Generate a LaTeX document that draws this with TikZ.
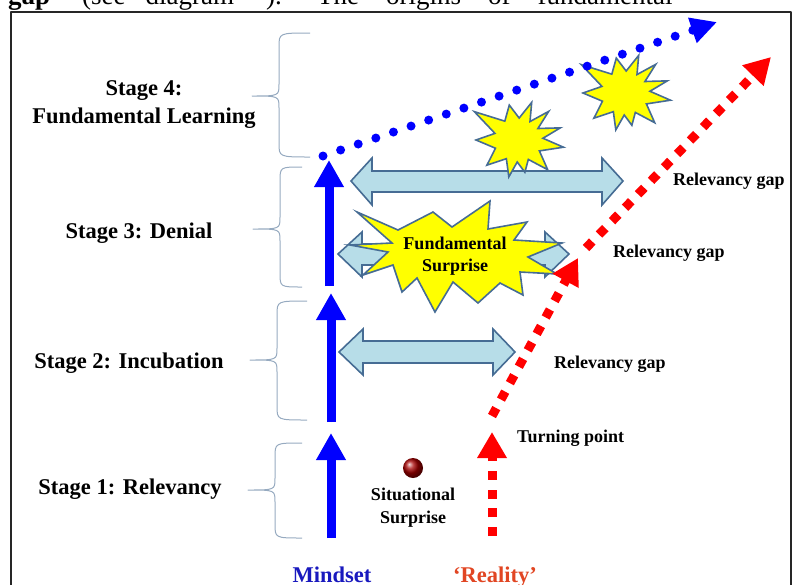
\documentclass[tikz,border=0pt]{standalone}
\usepackage{fontspec}
\setmainfont{Liberation Serif}
\usetikzlibrary{arrows.meta}
\definecolor{mindblue}{RGB}{0,0,255}
\definecolor{realred}{RGB}{255,0,0}
\definecolor{bracegray}{RGB}{150,170,192}
\definecolor{gapfill}{RGB}{183,221,232}
\definecolor{gapedge}{RGB}{70,108,148}
\definecolor{burstyellow}{RGB}{255,255,0}
\definecolor{mindtext}{RGB}{25,25,190}
\definecolor{realtext}{RGB}{225,70,35}

\newcommand{\stagebrace}[5]{%
  \draw[brace line] (#1,#3) .. controls (#2+27,#3) .. (#2+27,#3+14) -- (#2+27,#4-12)
    .. controls (#2+27,#4) .. (#2,#4) .. controls (#2+27,#4) .. (#2+27,#4+12)
    -- (#2+27,#5-14) .. controls (#2+27,#5) .. (#1,#5);
}

\begin{document}
\begin{tikzpicture}[x=1pt,y=-1pt,line join=round,
    brace line/.style={draw=bracegray,line width=1pt},
    stage label/.style={font=\fontsize{22.5}{26}\selectfont\bfseries,inner sep=0pt,anchor=base},
    small label/.style={font=\fontsize{18}{20}\selectfont\bfseries,inner sep=0pt},
    page text/.style={font=\fontsize{27}{30}\selectfont,inner sep=0pt,anchor=base west},
    gap arrow/.style={draw=gapedge,fill=gapfill,line width=1.6pt,line join=miter},
    burst/.style={draw=gapedge,fill=burstyellow,line width=1.6pt,line join=miter},
    mind arrow/.style={draw=mindblue,fill=mindblue,line width=9pt,-{Triangle[length=27pt,width=28pt]}},
    mind dots/.style={draw=mindblue,line width=9pt,line cap=round,dash pattern=on 0pt off 18.6pt,-{Triangle[length=26pt,width=25pt]}},
    real dash/.style={draw=realred,line width=9pt,dash pattern=on 9pt off 9.7pt,-{Triangle[length=26pt,width=28pt]}}]

    \useasboundingbox (0,0) rectangle (797,584);
    \clip (0,0) rectangle (797,584);

    \node[page text] (textA) at (8,4) {\spaceskip=20pt\relax\textbf{gap}” (see diagram ”).};
    \node[page text] (textB) at (317,4) {\spaceskip=27pt\relax The origins of fundamental};

    \draw[line width=2pt,black!85] (11,12) rectangle (791,640);

    \stagebrace{310}{252}{33}{96}{157}
    \stagebrace{302}{253}{167}{229}{287}
    \stagebrace{307}{250}{301}{360}{420}
    \stagebrace{302}{248}{443}{490}{538}

    \node[stage label] (stage4) at (144,95) {Stage 4:};
    \node[stage label] (stage4b) at (144,123) {Fundamental Learning};
    \node[stage label] (stage3) at (139,238) {Stage 3: Denial};
    \node[stage label] (stage2) at (129,368) {Stage 2: Incubation};
    \node[stage label] (stage1) at (130,494) {Stage 1: Relevancy};

    \draw[gap arrow] (351,181) -- (372,158) -- (372,171) -- (602,171) -- (602,158) -- (623,181) -- (602,205) -- (602,192) -- (372,192) -- (372,205) -- cycle;
    \draw[gap arrow] (338,254) -- (362,232) -- (362,244) -- (545,244) -- (545,232) -- (569,254) -- (545,277) -- (545,265) -- (362,265) -- (362,277) -- cycle;
    \draw[gap arrow] (339,352) -- (363,329) -- (363,341) -- (493,341) -- (493,329) -- (515,352) -- (493,375) -- (493,363) -- (363,363) -- (363,375) -- cycle;

    \draw[burst] (357,212) -- (398,230) -- (433,212) -- (452,227) -- (490,201) -- (488,229) -- (527,222) -- (514,240) -- (562,243) -- (528,257) -- (557,274) -- (520,272) -- (523,295) -- (500,283) -- (478,303) -- (453,282) -- (435,312) -- (417,278) -- (402,292) -- (393,265) -- (363,275) -- (388,252) -- (350,245) -- (392,243) -- cycle;
    \draw[burst,shift={(518,140)}] (9:46) -- (27:24) -- (45:42) -- (62:22) -- (78:33) -- (92:22) -- (104:38) -- (122:22) -- (141:40) -- (160:24) -- (180:42) -- (196:24) -- (213:52) -- (235:23) -- (256:36) -- (273:22) -- (290:40) -- (303:22) -- (317:42) -- (330:23) -- (344:44) -- (356:25) -- cycle;
    \draw[burst,shift={(625,93)}] (9:46) -- (27:24) -- (45:42) -- (62:22) -- (78:33) -- (92:22) -- (104:38) -- (122:22) -- (141:40) -- (160:24) -- (180:42) -- (196:24) -- (213:52) -- (235:23) -- (256:36) -- (273:22) -- (290:40) -- (303:22) -- (317:42) -- (330:23) -- (344:44) -- (356:25) -- cycle;

    \coordinate (m1) at (331,538);
    \coordinate (m1tip) at (331,433);
    \coordinate (m2) at (331,422);
    \coordinate (m2tip) at (331,293);
    \coordinate (m3) at (329,286);
    \coordinate (m3tip) at (329,160);
    \coordinate (dots0) at (323,156);
    \coordinate (dotstip) at (717,22);
    \draw[mind arrow] (m1) -- (m1tip);
    \draw[mind arrow] (m2) -- (m2tip);
    \draw[mind arrow] (m3) -- (m3tip);
    \draw[mind dots] (dots0) -- (dotstip);

    \coordinate (r1) at (492,536);
    \coordinate (r1tip) at (492,432);
    \coordinate (r2) at (492,416);
    \coordinate (r2tip) at (578,258);
    \coordinate (r3) at (586,248);
    \coordinate (r3tip) at (771,57);
    \draw[real dash] (r1) -- (r1tip);
    \draw[real dash] (r2) -- (r2tip);
    \draw[real dash] (r3) -- (r3tip);

    \shade[ball color=red!65!black] (413,468) circle (10);

    \node[small label,anchor=base] (fund) at (455,249) {Fundamental};
    \node[small label,anchor=base] (fund2) at (455,271) {Surprise};
    \node[small label,anchor=base west] (gap3) at (673,185) {Relevancy gap};
    \node[small label,anchor=base west] (gapmid) at (613,257) {Relevancy gap};
    \node[small label,anchor=base west] (gap2) at (554,368) {Relevancy gap};
    \node[small label,anchor=base west] (turn) at (517,442) {Turning point};
    \node[small label,anchor=base] (sit) at (413,500) {Situational};
    \node[small label,anchor=base] (sit2) at (413,523) {Surprise};

    \node[stage label,text=mindtext] (mindset) at (332,582) {Mindset};
    \node[stage label,text=realtext] (reality) at (495,582) {‘Reality’};
\end{tikzpicture}
\end{document}
